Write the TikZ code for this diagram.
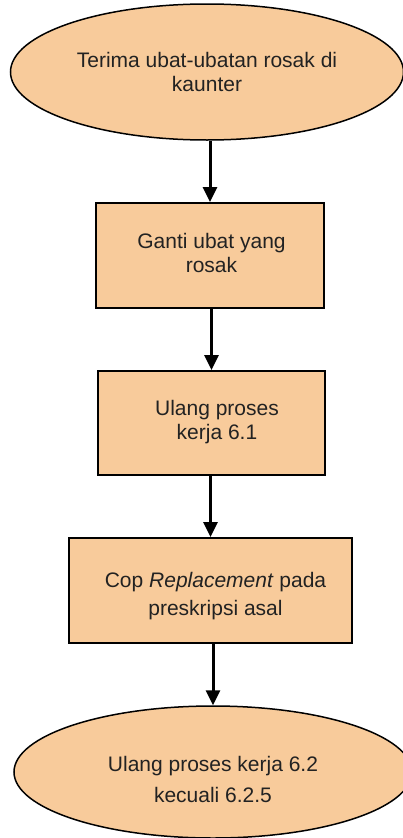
\documentclass[tikz,border=0pt]{standalone}
\usepackage{fontspec}
\setmainfont{Liberation Sans}
\usetikzlibrary{arrows.meta,shapes.geometric}
\definecolor{peach}{RGB}{248,203,155}
\definecolor{ink}{RGB}{34,34,34}
% two-line label, shifted by (#1,#2)
\newcommand{\twolines}[3]{\hspace*{#1}\raisebox{#2}[\height][\depth]{\begin{tabular}{@{}c@{}}#3\end{tabular}}}

\begin{document}
\begin{tikzpicture}[x=1pt, y=1pt, >={Triangle[width=14pt,length=15pt]},
  font=\fontsize{21}{24}\selectfont, text=ink,
  oval/.style={ellipse, draw, line width=1.5pt, fill=peach, inner sep=0pt, align=center},
  stepbox/.style={draw, line width=2pt, fill=peach, minimum height=105pt, align=center},
  arr/.style={->, line width=3pt}]
\clip (0,0) rectangle (403,-838);
% --- start: receive the damaged medicines ---
\node[oval, minimum width=393pt, minimum height=136pt] (terima) at (207,-72)
 {Terima ubat-ubatan rosak di\\kaunter};
% --- process boxes ---
\node[stepbox, minimum width=228pt] (ganti) at (210,-255.5)
 {\twolines{3pt}{0pt}{Ganti ubat yang\\rosak}};
\node[stepbox, minimum width=227pt, minimum height=104pt] (ulang) at (211.5,-423)
 {\twolines{11pt}{0pt}{Ulang proses\\kerja 6.1}};
\node[stepbox, minimum width=283pt] (cop) at (210.5,-590.5)
 {\twolines{10pt}{-6pt}{Cop \textit{Replacement} pada\\[4pt]preskripsi asal}};
% --- end: repeat process 6.2 ---
\node[oval, minimum width=398pt, minimum height=132pt] (akhir) at (213,-772)
 {\twolines{0pt}{-10pt}{Ulang proses kerja 6.2\\[7pt]kecuali 6.2.5}};
% --- arrows ---
\draw[arr] (terima.south -| ganti.north) -- (ganti.north);
\draw[arr] (ganti.south -| ulang.north) -- (ulang.north);
\draw[arr] (ulang.south -| cop.north) -- (cop.north);
\draw[arr] (cop.south -| akhir.north) -- (akhir.north);
\end{tikzpicture}
\end{document}
